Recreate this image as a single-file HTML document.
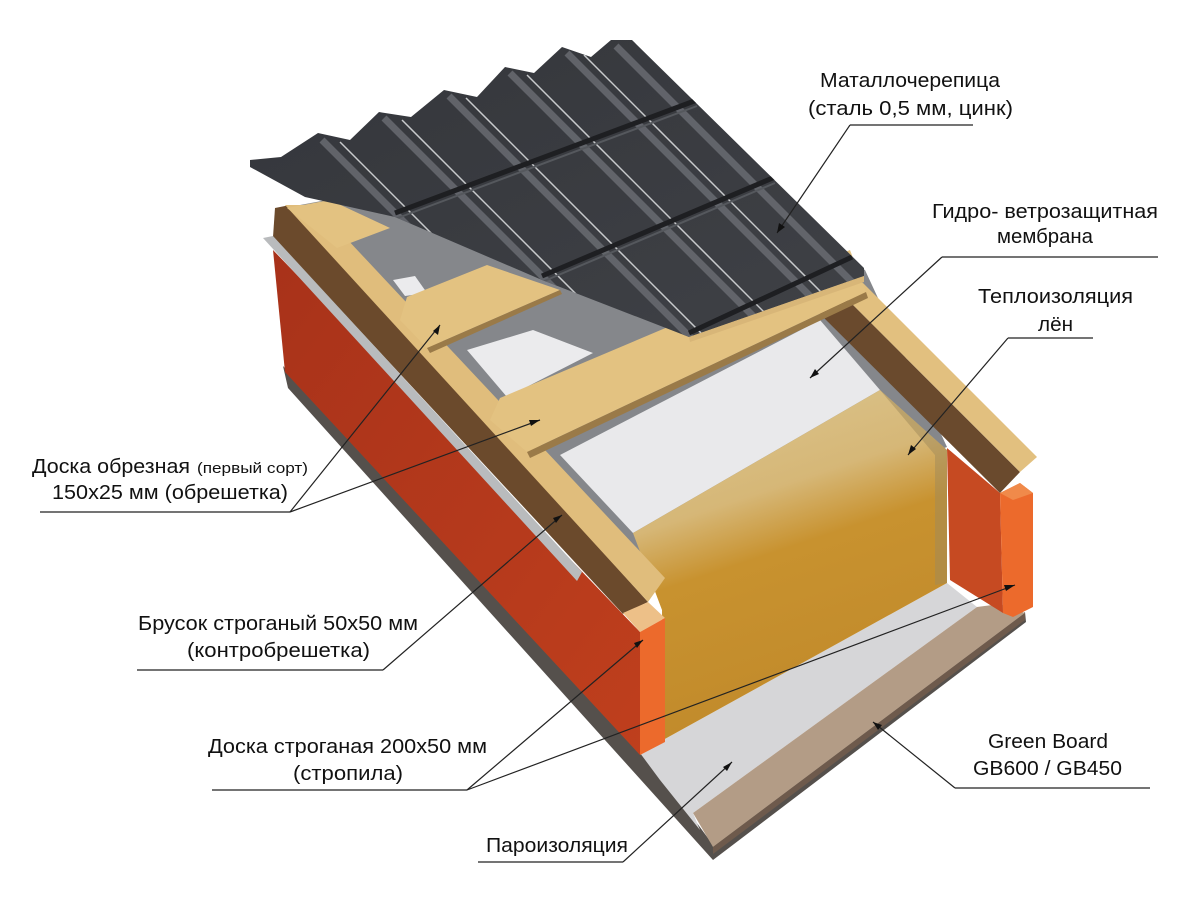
<!DOCTYPE html>
<html><head><meta charset="utf-8"><style>
html,body{margin:0;padding:0;background:#fff;}
svg{display:block;}
text{font-family:"Liberation Sans",sans-serif;fill:#111;font-size:20px;}
</style></head><body>
<svg width="1200" height="907" viewBox="0 0 1200 907" xmlns="http://www.w3.org/2000/svg">
<defs>
<linearGradient id="ins" x1="0" y1="0" x2="0.3" y2="1">
<stop offset="0" stop-color="#dcc893"/><stop offset="0.38" stop-color="#d6b777"/><stop offset="0.55" stop-color="#c8922f"/><stop offset="1" stop-color="#c18a2b"/></linearGradient>
<linearGradient id="red" x1="0" y1="0" x2="1" y2="1">
<stop offset="0" stop-color="#a8321a"/><stop offset="1" stop-color="#bf3f1d"/></linearGradient>
<linearGradient id="tile" x1="0" y1="0" x2="1" y2="1">
<stop offset="0" stop-color="#34363b"/><stop offset="1" stop-color="#3f4146"/></linearGradient>
<clipPath id="tc"><polygon points="250,160 281,157 318,133 350,140 379,112 411,117 444,90 477,97 505,67 534,73 562,47 591,57 611,40 632,40 864,268 864,276 689,337 542,280 395,217 305,197 250,167"/></clipPath>
</defs>

<polygon points="283,366 645,752 713,845 1025,612 1026,622 713,860 288,388" fill="#55504c"/>
<polygon points="273,250 640,632 640,755 285,372" fill="url(#red)"/>
<polygon points="640,753 663,740 947,583 977,607 693,813 700,830 660,780" fill="#d6d6d8"/>
<polygon points="693,813 977,607 1000,604 1025,613 713,847" fill="#b39c86"/>
<polygon points="713,847 1025,613 1025,620 713,854" fill="#6e5a4c"/>
<polygon points="300,205 650,140 865,270 947,447 640,560 540,460 320,220" fill="#85878b"/>
<polygon points="467,350 533,330 593,353 507,397" fill="#ebebed"/>
<polygon points="560,455 820,320 880,390 633,533" fill="#e9e9eb"/>
<polygon points="393,280 415,276 427,293 405,296" fill="#ebebed"/>
<polygon points="633,533 880,390 947,450 947,583 663,740 662,610" fill="url(#ins)"/>
<polygon points="880,390 947,450 947,583 935,585 935,455" fill="#a08a5a" opacity="0.5"/>
<polygon points="947,448 1000,493 1003,613 950,580" fill="#c64a22"/>
<polygon points="1000,493 1020,483 1033,493 1033,607 1013,617 1003,613" fill="#ec6a2c"/>
<polygon points="1000,493 1020,483 1033,493 1013,500" fill="#f08a4a"/>
<polygon points="813,307 840,292 1020,472 1000,493" fill="#6a4a2d"/>
<polygon points="840,292 863,283 1037,457 1020,472" fill="#e2c07f"/>
<!-- left counter batten -->
<polygon points="275,208 290,205 648,602 623,614 273,237" fill="#6b4a2c"/>
<polygon points="285,205 315,205 665,578 648,602" fill="#e0bd7c"/>
<polygon points="263,238 273,236 582,572 577,581" fill="#b9bbbd"/>
<polygon points="623,613 648,602 665,618 640,632" fill="#edc088"/>
<polygon points="640,632 665,618 665,742 640,755" fill="#ec6a2c"/>
<!-- battens -->
<polygon points="287,208 330,200 390,228 337,248" fill="#e3c281"/>
<polygon points="407,297 487,265 560,290 427,348 400,320" fill="#e3c281"/>
<polygon points="500,398 850,250 866,292 527,452 490,420" fill="#e3c281"/>
<polygon points="527,452 866,292 868,298 530,458" fill="#9a7a48"/>
<polygon points="427,348 560,290 562,294 430,353" fill="#9a7a48"/>

<polygon points="250,160 281,157 318,133 350,140 379,112 411,117 444,90 477,97 505,67 534,73 562,47 591,57 611,40 632,40 864,268 864,276 689,337 542,280 395,217 305,197 250,167" fill="url(#tile)"/>
<g clip-path="url(#tc)">
<g stroke="#6c6f75" stroke-width="7" opacity="0.8">
<line x1="322" y1="140" x2="622" y2="440"/><line x1="384" y1="118" x2="684" y2="418"/>
<line x1="449" y1="96" x2="749" y2="396"/><line x1="510" y1="73" x2="810" y2="373"/>
<line x1="567" y1="53" x2="867" y2="353"/><line x1="616" y1="46" x2="916" y2="346"/>
</g>
<g stroke="#c8cacc" stroke-width="1.5">
<line x1="340" y1="142" x2="640" y2="442"/><line x1="402" y1="120" x2="702" y2="420"/>
<line x1="466" y1="98" x2="766" y2="398"/><line x1="527" y1="75" x2="827" y2="375"/>
<line x1="584" y1="55" x2="884" y2="355"/>
</g>
<g stroke="#1e1f22" stroke-width="5" fill="none">
<path d="M395,213 L697,100"/><path d="M542,276 L775,177"/><path d="M689,333 L852,257"/>
</g>
<g stroke="#55585d" stroke-width="2" fill="none">
<path d="M395,219 L697,106"/><path d="M542,282 L775,183"/>
</g>
</g>
<polygon points="689,337 864,276 864,282 690,342" fill="#d8b678"/>

<g stroke="#222" stroke-width="1.2" fill="none">
<line x1="850" y1="125" x2="973" y2="125"/><line x1="850" y1="125" x2="777" y2="233"/>
<line x1="942" y1="257" x2="1158" y2="257"/><line x1="942" y1="257" x2="810" y2="378"/>
<line x1="1008" y1="338" x2="1093" y2="338"/><line x1="1008" y1="338" x2="908" y2="455"/>
<line x1="40" y1="512" x2="290" y2="512"/><line x1="290" y1="512" x2="440" y2="325"/><line x1="290" y1="512" x2="540" y2="420"/>
<line x1="137" y1="670" x2="383" y2="670"/><line x1="383" y1="670" x2="562" y2="515"/>
<line x1="212" y1="790" x2="467" y2="790"/><line x1="467" y1="790" x2="643" y2="640"/><line x1="467" y1="790" x2="1015" y2="585"/>
<line x1="955" y1="788" x2="1150" y2="788"/><line x1="955" y1="788" x2="873" y2="722"/>
<line x1="478" y1="862" x2="623" y2="862"/><line x1="623" y1="862" x2="732" y2="762"/>
</g>
<g fill="#111">
<polygon points="777,233 779,223 785,227"/>
<polygon points="810,378 815,369 819,374"/>
<polygon points="908,455 911,445 916,449"/>
<polygon points="440,325 438,335 433,331"/>
<polygon points="540,420 531,426 529,420"/>
<polygon points="562,515 556,523 553,518"/>
<polygon points="643,640 637,648 634,643"/>
<polygon points="1015,585 1006,591 1004,585"/>
<polygon points="873,722 882,725 878,730"/>
<polygon points="732,762 727,771 723,767"/>
</g>

<text x="820" y="87" textLength="180" lengthAdjust="spacingAndGlyphs">Маталлочерепица</text>
<text x="808" y="115" textLength="205" lengthAdjust="spacingAndGlyphs">(сталь 0,5 мм, цинк)</text>
<text x="932" y="218" textLength="226" lengthAdjust="spacingAndGlyphs">Гидро- ветрозащитная</text>
<text x="997" y="243" textLength="96" lengthAdjust="spacingAndGlyphs">мембрана</text>
<text x="978" y="303" textLength="155" lengthAdjust="spacingAndGlyphs">Теплоизоляция</text>
<text x="1038" y="331" textLength="35" lengthAdjust="spacingAndGlyphs">лён</text>
<text x="32" y="473" textLength="158" lengthAdjust="spacingAndGlyphs">Доска обрезная</text>
<text x="197" y="473" style="font-size:15px" textLength="111" lengthAdjust="spacingAndGlyphs">(первый сорт)</text>
<text x="52" y="499" textLength="236" lengthAdjust="spacingAndGlyphs">150x25 мм (обрешетка)</text>
<text x="138" y="630" textLength="280" lengthAdjust="spacingAndGlyphs">Брусок строганый 50x50 мм</text>
<text x="187" y="657" textLength="183" lengthAdjust="spacingAndGlyphs">(контробрешетка)</text>
<text x="208" y="753" textLength="279" lengthAdjust="spacingAndGlyphs">Доска строганая 200x50 мм</text>
<text x="293" y="780" textLength="110" lengthAdjust="spacingAndGlyphs">(стропила)</text>
<text x="988" y="748" textLength="120" lengthAdjust="spacingAndGlyphs">Green Board</text>
<text x="973" y="775" textLength="149" lengthAdjust="spacingAndGlyphs">GB600 / GB450</text>
<text x="486" y="852" textLength="142" lengthAdjust="spacingAndGlyphs">Пароизоляция</text>
</svg>
</body></html>
